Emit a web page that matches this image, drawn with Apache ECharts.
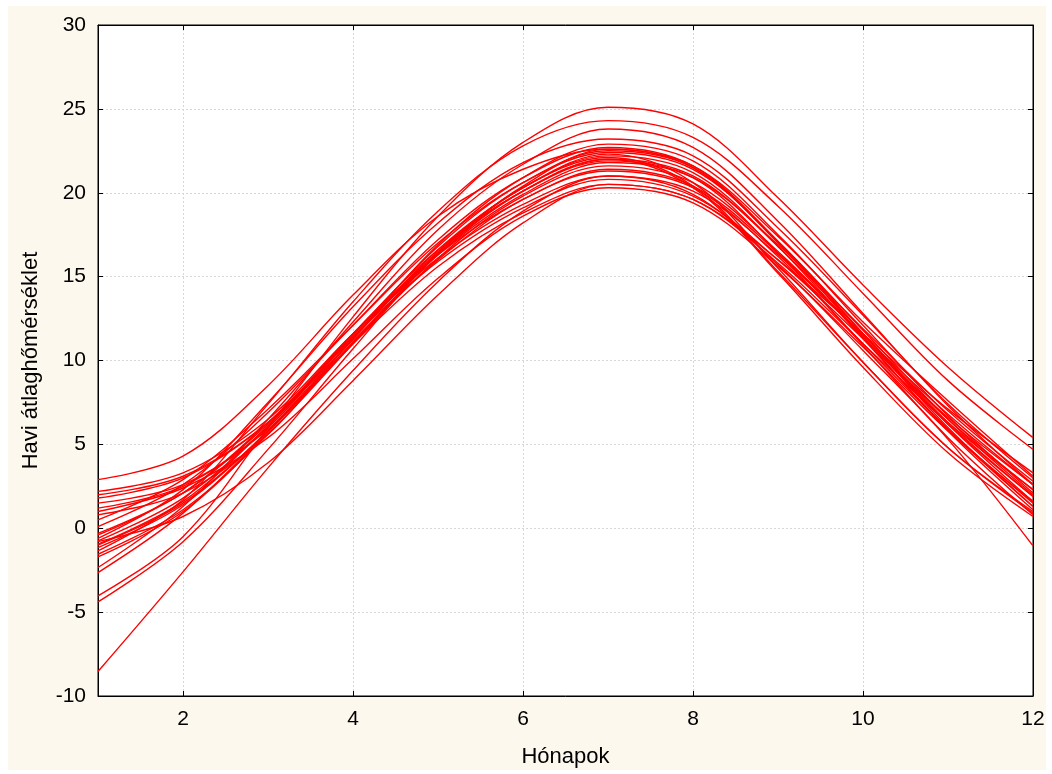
<!DOCTYPE html>
<html>
<head>
<meta charset="utf-8">
<script src="https://cdn.jsdelivr.net/npm/echarts@6/dist/echarts.min.js"></script>
<style>
  html, body { margin: 0; padding: 0; background: #fff; }
  #wrap { position: relative; width: 1052px; height: 774px; }
  #paper { position: absolute; left: 8px; top: 6px; right: 6px; bottom: 4px; background: #fdf8ee; }
  #chart { position: absolute; left: 0; top: 0; width: 1052px; height: 774px; }
</style>
</head>
<body>
<div id="wrap">
  <div id="paper"></div>
  <div id="chart"></div>
</div>
<script>
// months 1..12, one row of monthly means per station
let months = [1, 2, 3, 4, 5, 6, 7, 8, 9, 10, 11, 12];

let t01 = [2.9, 4.3, 8.5, 13.9, 18.6, 21.4, 22.6, 21.6, 17.4, 12.3, 7.6, 3.1];
let t02 = [2.2, 3.3, 6.5, 11.6, 16.1, 19.3, 21.0, 20.1, 16.3, 11.5, 6.8, 2.6];
let t03 = [2.0, 3.1, 6.3, 11.4, 15.9, 19.1, 20.8, 19.8, 16.0, 11.3, 6.6, 2.6];
let t04 = [1.8, 3.0, 6.3, 11.6, 16.3, 19.6, 21.4, 20.4, 16.4, 11.5, 6.5, 2.3];
let t05 = [1.2, 2.5, 6.0, 11.6, 16.6, 20.1, 22.0, 21.0, 16.8, 11.6, 6.3, 1.9];
let t06 = [1.0, 2.4, 5.4, 10.1, 14.9, 18.6, 20.3, 19.4, 15.6, 10.8, 5.8, 1.6];
let t07 = [0.5, 2.9, 7.1, 12.1, 17.0, 20.6, 22.4, 21.4, 17.1, 11.8, 6.5, 2.0];
let t08 = [0.1, 2.6, 6.9, 12.1, 17.2, 20.9, 22.7, 21.6, 17.1, 11.6, 6.0, 1.3];
let t09 = [-0.6, 2.3, 7.5, 13.2, 18.2, 21.8, 23.2, 22.2, 17.9, 12.7, 7.4, 3.0];
let t10 = [-0.75, 1.8, 6.1, 11.4, 16.5, 20.3, 22.1, 20.4, 15.3, 9.9, 4.8, 1.0];
let t11 = [-0.95, 1.6, 6.1, 11.5, 16.8, 20.6, 22.5, 21.5, 17.1, 11.6, 6.2, 1.6];
let t12 = [-1.15, 1.4, 5.8, 11.1, 16.3, 20.1, 22.0, 20.3, 15.2, 9.6, 4.5, 0.7];
let t13 = [-1.35, 1.7, 7.4, 13.5, 18.9, 22.8, 24.3, 23.3, 19.2, 14.0, 8.8, 4.7];
let t14 = [-1.55, 1.1, 5.6, 11.0, 16.4, 20.3, 22.2, 21.2, 16.8, 11.3, 5.9, 1.3];
let t15 = [-0.8, 0.7, 3.9, 8.8, 13.9, 18.2, 20.5, 19.6, 15.8, 11.0, 6.3, 2.3];
let t16 = [-1.0, 1.5, 5.8, 11.0, 16.1, 19.8, 21.6, 20.6, 16.5, 11.4, 6.2, 1.9];
let t17 = [-2.34, 1.3, 6.5, 12.3, 17.8, 21.7, 23.8, 22.7, 18.3, 12.8, 7.3, 2.6];
let t18 = [-2.64, 0.9, 5.8, 11.3, 16.6, 20.3, 22.3, 20.6, 15.5, 9.9, 4.8, 0.9];
let t19 = [-4.03, -0.5, 6.0, 12.6, 18.6, 23.0, 25.1, 24.1, 19.7, 14.5, 9.6, 5.4];
let t20 = [-4.39, -0.8, 4.7, 10.7, 16.4, 20.4, 22.6, 21.5, 17.0, 11.4, 5.8, 1.1];
let t21 = [-8.54, -2.6, 3.6, 9.4, 14.7, 18.9, 21.0, 19.9, 15.7, 10.6, 5.3, -1.05];
let t22 = [0.8, 2.1, 5.6, 11.3, 16.3, 19.9, 21.8, 20.9, 16.9, 11.9, 7.0, 2.8];
let t23 = [-0.3, 2.1, 6.2, 11.2, 16.0, 19.6, 21.3, 20.3, 16.2, 11.0, 5.9, 1.5];
let t24 = [-1.7, 1.0, 5.7, 11.3, 16.9, 20.9, 22.9, 21.9, 17.5, 12.1, 6.7, 2.1];
let t25 = [1.5, 2.6, 5.9, 11.0, 15.6, 18.8, 20.5, 19.6, 16.0, 11.6, 7.1, 3.3];
let t26 = [-0.4, 2.1, 6.3, 11.4, 16.4, 20.1, 21.9, 20.9, 16.4, 10.9, 5.4, 0.8];

let stations = [t01, t02, t03, t04, t05, t06, t07, t08, t09, t10, t11, t12, t13,
                t14, t15, t16, t17, t18, t19, t20, t21, t22, t23, t24, t25, t26];

let yTicks = [-10, -5, 0, 5, 10, 15, 20, 25, 30];

let font = 'Liberation Sans, Arial, sans-serif';

let seriesList = [];
for (let s of stations) {
    seriesList.push({
        type: 'line',
        data: months.map((m, i) => [m, s[i]]),
        smooth: 0.35,
        showSymbol: false,
        silent: true,
        lineStyle: { color: '#ff0000', width: 1.4 }
    });
}

let hideOdd = v => (v % 2 === 0 ? String(v) : '');
let gridLine = { show: true, lineStyle: { color: '#d6d6d6', type: [2, 2], width: 1 } };
let tick = { show: true, inside: true, length: 5, lineStyle: { color: '#000' } };
let axisLine = { show: true, onZero: false, lineStyle: { color: '#000', width: 1 } };

let option = {
    animation: false,
    backgroundColor: 'transparent',
    grid: {
        left: 98, right: 19, top: 25, bottom: 78,
        show: true, backgroundColor: '#ffffff', borderColor: '#000', borderWidth: 1
    },
    xAxis: [
        {
            type: 'value', min: 1, max: 12, splitNumber: 6,
            name: 'Hónapok', nameLocation: 'middle', nameGap: 50,
            nameTextStyle: { fontFamily: font, fontSize: 22, color: '#000' },
            axisLine: axisLine,
            axisTick: tick,
            axisLabel: { fontFamily: font, fontSize: 21, color: '#000', margin: 13, formatter: hideOdd },
            splitLine: gridLine
        },
        {
            type: 'value', min: 1, max: 12, splitNumber: 6, position: 'top',
            axisLine: axisLine,
            axisTick: tick,
            axisLabel: { show: false },
            splitLine: { show: false }
        }
    ],
    yAxis: [
        {
            type: 'value', min: yTicks[0], max: yTicks[yTicks.length - 1], interval: 5,
            name: 'Havi átlaghőmérséklet', nameLocation: 'middle', nameGap: 56, nameRotate: 90,
            nameTextStyle: { fontFamily: font, fontSize: 22, color: '#000' },
            axisLine: axisLine,
            axisTick: tick,
            axisLabel: { fontFamily: font, fontSize: 21, color: '#000', margin: 12 },
            splitLine: gridLine
        },
        {
            type: 'value', min: yTicks[0], max: yTicks[yTicks.length - 1], interval: 5, position: 'right',
            axisLine: axisLine,
            axisTick: tick,
            axisLabel: { show: false },
            splitLine: { show: false }
        }
    ],
    series: seriesList
};

let chart = echarts.init(document.getElementById('chart'));
chart.setOption(option);
</script>
</body>
</html>
